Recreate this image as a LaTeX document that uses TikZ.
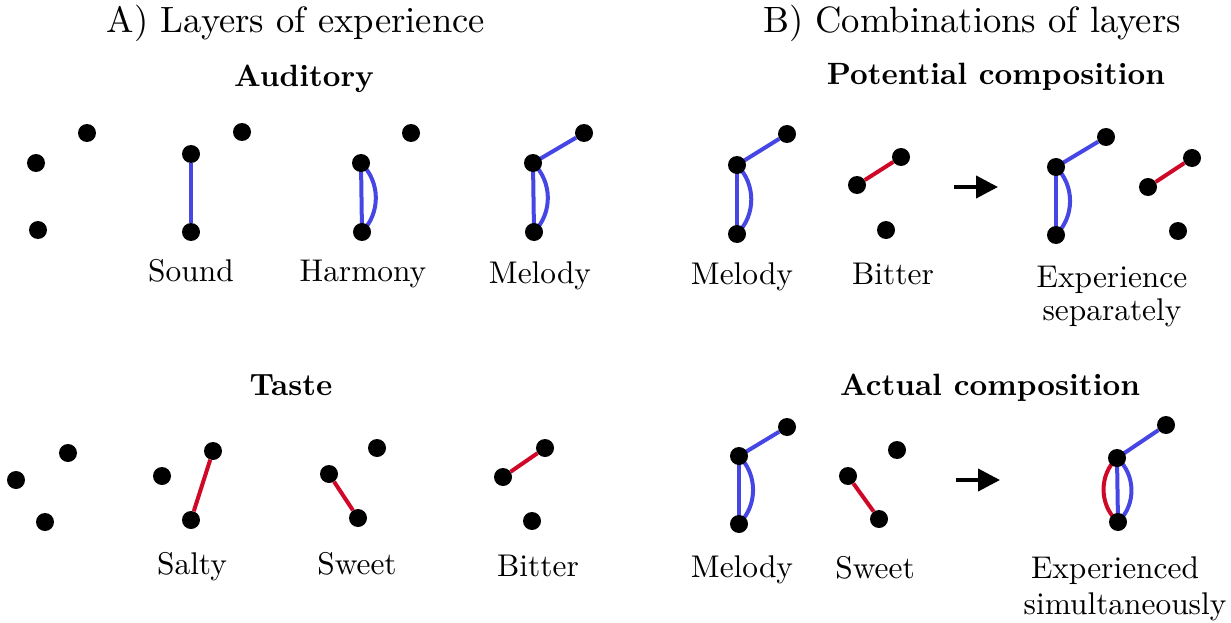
\documentclass[tikz,border=0pt]{standalone}
\usepackage{fontspec}
\setmainfont{lmroman10-regular.otf}[BoldFont=lmroman10-bold.otf]
\usetikzlibrary{arrows.meta}
\definecolor{lblue}{RGB}{70,70,228}
\definecolor{lred}{RGB}{208,8,40}
\begin{document}
\begin{tikzpicture}[x=1pt,y=-1pt,
  dot/.style={circle,fill=black,inner sep=0pt,minimum size=18pt},
  bl/.style={lblue,line width=4pt},
  rd/.style={lred,line width=4pt},
  lbl/.style={anchor=base,font=\fontsize{31.4}{36}\selectfont,inner sep=0pt},
  ttl/.style={anchor=base,font=\fontsize{30.8}{36}\selectfont\bfseries,inner sep=0pt},
  head/.style={anchor=base,font=\fontsize{36.6}{42}\selectfont,inner sep=0pt},
  arr/.style={line width=4pt,-{Triangle[length=22pt,width=22pt]}}]
\useasboundingbox (0,0) rectangle (1231,623);
% headings
\node[head] (hA) at (296,33) {A) Layers of experience};
\node[head] (hB) at (972,33) {B) Combinations of layers};
\node[ttl] (tAud) at (304,87) {Auditory};
\node[ttl] (tTaste) at (291,395) {Taste};
\node[ttl] (tPot) at (996,85) {Potential composition};
\node[ttl] (tAct) at (990,395) {Actual composition};
% Auditory: empty
\node[dot] (a1) at (36,163) {};
\node[dot] (a2) at (87,133) {};
\node[dot] (a3) at (38,230) {};
% Sound
\node[dot] (s1) at (191,154) {};
\node[dot] (s2) at (242,132) {};
\node[dot] (s3) at (191,232) {};
\draw[bl] (s1) -- (s3);
\node[lbl] (lS) at (191,281) {Sound};
% Harmony
\node[dot] (h2) at (411,133) {};
\coordinate (h1c) at (361,163);
\coordinate (h3c) at (362,232);
\draw[bl] (h1c) -- (h3c);
\draw[bl] (h1c) to[bend left=45] (h3c);
\node[dot] (h1) at (h1c) {};
\node[dot] (h3) at (h3c) {};
\node[lbl] (lH) at (363,281) {Harmony};
% Melody
\coordinate (m1c) at (533,163);
\coordinate (m3c) at (534,232);
\node[dot] (m2) at (584,133) {};
\draw[bl] (m1c) -- (m2);
\draw[bl] (m1c) -- (m3c);
\draw[bl] (m1c) to[bend left=45] (m3c);
\node[dot] (m1) at (m1c) {};
\node[dot] (m3) at (m3c) {};
\node[lbl] (lM) at (540,283) {Melody};
% Taste: empty
\node[dot] (t1) at (16,480) {};
\node[dot] (t2) at (68,453) {};
\node[dot] (t3) at (45,522) {};
% Salty
\node[dot] (sa1) at (162,476) {};
\node[dot] (sa2) at (213,451) {};
\node[dot] (sa3) at (191,520) {};
\draw[rd] (sa2) -- (sa3);
\node[lbl] (lSa) at (192,574) {Salty};
% Sweet
\node[dot] (sw1) at (329,474) {};
\node[dot] (sw2) at (377,448) {};
\node[dot] (sw3) at (358,518) {};
\draw[rd] (sw1) -- (sw3);
\node[lbl] (lSw) at (357,574) {Sweet};
% Bitter
\node[dot] (bi1) at (503,477) {};
\node[dot] (bi2) at (545,448) {};
\node[dot] (bi3) at (532,521) {};
\draw[rd] (bi1) -- (bi2);
\node[lbl] (lBi) at (538,576) {Bitter};
% B potential: melody
\coordinate (pm1c) at (737,165);
\coordinate (pm3c) at (737,234);
\node[dot] (pm2) at (787,134) {};
\draw[bl] (pm1c) -- (pm2);
\draw[bl] (pm1c) -- (pm3c);
\draw[bl] (pm1c) to[bend left=45] (pm3c);
\node[dot] (pm1) at (pm1c) {};
\node[dot] (pm3) at (pm3c) {};
\node[lbl] (lpm) at (742,284) {Melody};
% bitter
\node[dot] (pb1) at (857,185) {};
\node[dot] (pb2) at (901,157) {};
\node[dot] (pb3) at (886,230) {};
\draw[rd] (pb1) -- (pb2);
\node[lbl] (lpb) at (893,284) {Bitter};
% arrow
\coordinate (pa1) at (954,187);
\coordinate (pa2) at (998,187);
\draw[arr] (pa1) -- (pa2);
% experience separately
\coordinate (pe1c) at (1056,167);
\coordinate (pe3c) at (1056,235);
\node[dot] (pe2) at (1106,137) {};
\draw[bl] (pe1c) -- (pe2);
\draw[bl] (pe1c) -- (pe3c);
\draw[bl] (pe1c) to[bend left=45] (pe3c);
\node[dot] (pe1) at (pe1c) {};
\node[dot] (pe3) at (pe3c) {};
\node[dot] (pf1) at (1148,187) {};
\node[dot] (pf2) at (1192,158) {};
\node[dot] (pf3) at (1178,231) {};
\draw[rd] (pf1) -- (pf2);
\node[lbl] (lpe1) at (1112,287) {Experience};
\node[lbl] (lpe2) at (1112,320) {separately};
% B actual: melody
\coordinate (am1c) at (739,456);
\coordinate (am3c) at (739,524);
\node[dot] (am2) at (787,427) {};
\draw[bl] (am1c) -- (am2);
\draw[bl] (am1c) -- (am3c);
\draw[bl] (am1c) to[bend left=45] (am3c);
\node[dot] (am1) at (am1c) {};
\node[dot] (am3) at (am3c) {};
\node[lbl] (lam) at (742,577) {Melody};
% sweet
\node[dot] (as1) at (848,476) {};
\node[dot] (as2) at (897,450) {};
\node[dot] (as3) at (879,519) {};
\draw[rd] (as1) -- (as3);
\node[lbl] (las) at (875,578) {Sweet};
% arrow
\coordinate (aa1) at (956,480);
\coordinate (aa2) at (1000,480);
\draw[arr] (aa1) -- (aa2);
% experienced simultaneously
\coordinate (ae1c) at (1117,458);
\coordinate (ae3c) at (1118,522);
\node[dot] (ae2) at (1166,425) {};
\draw[bl] (ae1c) -- (ae2);
\draw[bl] (ae1c) -- (ae3c);
\draw[bl] (ae1c) to[bend left=48] (ae3c);
\draw[rd] (ae1c) to[bend right=48] (ae3c);
\node[dot] (ae1) at (ae1c) {};
\node[dot] (ae3) at (ae3c) {};
\node[lbl] (lae1) at (1115,578) {Experienced};
\node[lbl] (lae2) at (1125,614) {simultaneously};
\end{tikzpicture}
\end{document}
